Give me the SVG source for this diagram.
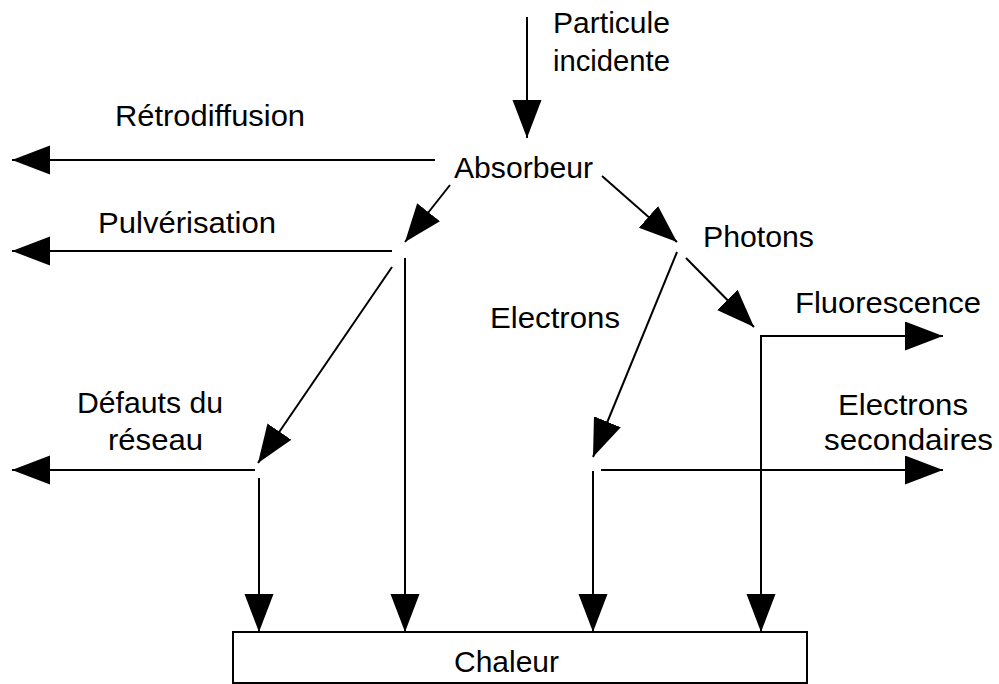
<svg xmlns="http://www.w3.org/2000/svg" width="999" height="684" viewBox="0 0 999 684">
  <style>
    .lbl { font-family: "Liberation Sans", Arial, sans-serif; font-size: 30px; fill: #000; }
    .edge { stroke: #000; stroke-width: 2; fill: none; marker-end: url(#head); }
  </style>
  <defs>
    <marker id="head" markerUnits="userSpaceOnUse" markerWidth="39" markerHeight="30" refX="38" refY="14.5" orient="auto">
      <path d="M0,0 L38,14.5 L0,29 z" fill="#000"/>
    </marker>
  </defs>
  <rect width="999" height="684" fill="#fff"/>

  <!-- labels -->
  <g id="particule">
    <text class="lbl" x="553" y="33" textLength="117" lengthAdjust="spacingAndGlyphs">Particule</text>
    <text class="lbl" x="553" y="71" textLength="117" lengthAdjust="spacingAndGlyphs">incidente</text>
  </g>
  <g id="absorbeur">
    <text class="lbl" x="454" y="178" textLength="139" lengthAdjust="spacingAndGlyphs">Absorbeur</text>
  </g>
  <g id="retrodiffusion">
    <text class="lbl" x="115" y="126" textLength="190" lengthAdjust="spacingAndGlyphs">Rétrodiffusion</text>
  </g>
  <g id="pulverisation">
    <text class="lbl" x="98" y="233" textLength="178" lengthAdjust="spacingAndGlyphs">Pulvérisation</text>
  </g>
  <g id="photons">
    <text class="lbl" x="703" y="247" textLength="111" lengthAdjust="spacingAndGlyphs">Photons</text>
  </g>
  <g id="electrons">
    <text class="lbl" x="490" y="328" textLength="130" lengthAdjust="spacingAndGlyphs">Electrons</text>
  </g>
  <g id="fluorescence">
    <text class="lbl" x="795" y="313" textLength="186" lengthAdjust="spacingAndGlyphs">Fluorescence</text>
  </g>
  <g id="electrons-secondaires">
    <text class="lbl" x="838" y="415" textLength="130" lengthAdjust="spacingAndGlyphs">Electrons</text>
    <text class="lbl" x="824" y="450" textLength="169" lengthAdjust="spacingAndGlyphs">secondaires</text>
  </g>
  <g id="defauts">
    <text class="lbl" x="77" y="413" textLength="146" lengthAdjust="spacingAndGlyphs">Défauts du</text>
    <text class="lbl" x="108" y="450" textLength="95" lengthAdjust="spacingAndGlyphs">réseau</text>
  </g>
  <g id="chaleur">
    <rect x="233" y="632" width="574" height="51" fill="#fff" stroke="#000" stroke-width="2"/>
    <text class="lbl" x="454" y="672" textLength="105" lengthAdjust="spacingAndGlyphs">Chaleur</text>
  </g>

  <!-- connectors -->
  <g id="connectors">
    <line class="edge" x1="527" y1="17" x2="527" y2="138"/>
    <line class="edge" x1="435" y1="160" x2="12" y2="160"/>
    <line class="edge" x1="450" y1="185" x2="405" y2="242"/>
    <line class="edge" x1="602" y1="176" x2="677" y2="242"/>
    <line class="edge" x1="392" y1="251" x2="12" y2="251"/>
    <line class="edge" x1="392" y1="267" x2="258" y2="463"/>
    <line class="edge" x1="405" y1="258" x2="405" y2="632"/>
    <line class="edge" x1="255" y1="470" x2="12" y2="470"/>
    <line class="edge" x1="259" y1="478" x2="259" y2="632"/>
    <line class="edge" x1="677" y1="252" x2="593" y2="457"/>
    <line class="edge" x1="686" y1="258" x2="754" y2="327"/>
    <line class="edge" x1="593" y1="471" x2="593" y2="632"/>
    <line class="edge" x1="601" y1="470" x2="943" y2="470"/>
    <line class="edge" x1="761" y1="336" x2="943" y2="336"/>
    <line class="edge" x1="761" y1="335" x2="761" y2="632"/>
  </g>
</svg>
